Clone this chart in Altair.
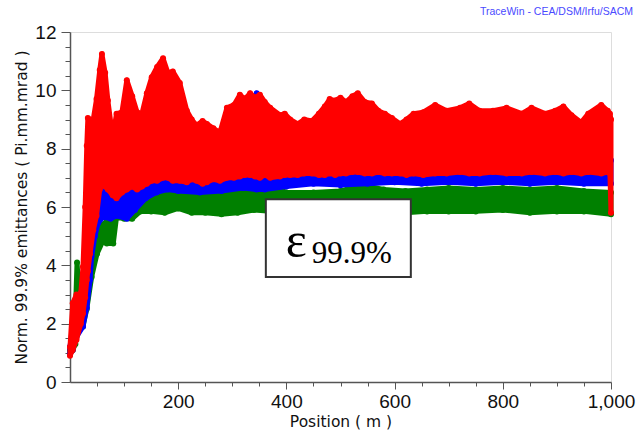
import altair as alt
import pandas as pd

# ---------------- data (envelopes of the noisy traces) ----------------
red_pos = [0, 5, 12, 20, 24, 28, 31, 33, 37, 43, 49, 55, 59, 65, 70, 79, 86, 96, 105, 115, 124, 133,
           142, 151, 161, 172, 181, 190, 203, 216, 225, 234, 245, 253, 265, 277, 290, 303, 314, 323,
           333, 342, 351, 360, 370, 388, 397, 407, 421, 433, 447, 460, 471, 480, 490, 500, 510, 522,
           532, 545, 558, 570, 582, 595, 610, 622, 635, 653, 675, 696, 721, 738, 757, 782, 807, 835,
           853, 878, 897, 912, 927, 945, 958, 982, 994, 998, 1000]
red_hi = [1.2, 2.7, 3.0, 3.05, 3.95, 6.0, 8.1, 9.05, 9.0, 9.0, 9.7, 10.7, 11.25, 10.6, 9.65, 8.4, 9.2,
          9.25, 10.35, 9.8, 9.25, 9.2, 9.9, 10.45, 10.8, 11.1, 10.6, 10.65, 10.25, 9.3, 9.0, 8.8, 8.95,
          8.85, 8.7, 8.55, 9.4, 9.5, 9.85, 9.7, 9.9, 9.75, 9.85, 9.6, 9.4, 9.15, 9.2, 9.0, 8.85, 9.0,
          8.95, 9.2, 9.45, 9.7, 9.65, 9.75, 9.6, 9.8, 9.9, 9.6, 9.55, 9.3, 9.2, 9.05, 8.85, 9.0, 9.2,
          9.25, 9.5, 9.3, 9.4, 9.55, 9.3, 9.3, 9.4, 9.2, 9.4, 9.2, 9.3, 9.45, 9.15, 8.9, 9.2, 9.5, 9.3,
          9.2, 9.0]
red_lo = [0.9, 1.1, 1.45, 2.0, 2.35, 2.9, 3.5, 3.8, 4.4, 5.2, 5.7, 6.6, 6.8, 6.7, 6.6, 6.4, 6.3, 6.5,
          6.6, 6.7, 6.6, 6.7, 6.8, 6.9, 6.9, 7.0, 7.0, 6.9, 6.9, 6.85, 6.95, 6.9, 6.8, 6.85, 6.95, 6.9,
          7.0, 7.0, 7.05, 7.1, 7.1, 7.05, 7.0, 7.1, 7.0, 7.05, 7.1, 7.1, 7.1, 7.15, 7.15, 7.1, 7.1,
          7.15, 7.1, 7.15, 7.15, 7.2, 7.2, 7.15, 7.15, 7.2, 7.15, 7.15, 7.15, 7.1, 7.15, 7.1, 7.15,
          7.15, 7.2, 7.15, 7.15, 7.2, 7.15, 7.15, 7.2, 7.15, 7.2, 7.15, 7.2, 7.15, 7.2, 7.15, 7.2,
          7.15, 5.8]

blue_pos = [0, 5, 12, 24, 31, 37, 40, 46, 52, 61, 75, 86, 105, 120, 140, 160, 180, 200, 240, 280, 320,
            345, 360, 400, 450, 500, 550, 600, 650, 700, 750, 800, 850, 900, 950, 1000]
blue_hi = [1.2, 2.0, 2.6, 3.3, 4.5, 5.8, 6.6, 7.0, 7.2, 7.1, 7.0, 7.0, 7.4, 7.6, 7.8, 7.9, 7.9, 7.8,
           7.6, 7.7, 7.8, 9.9, 7.9, 7.8, 7.7, 7.8, 7.8, 7.7, 7.7, 7.8, 7.8, 7.7, 7.8, 7.8, 7.7, 7.6]
blue_lo = [0.95, 1.1, 1.55, 1.9, 2.55, 3.5, 4.3, 5.0, 5.45, 5.65, 5.6, 5.7, 5.6, 5.9, 6.3, 6.5, 6.6,
           6.55, 6.5, 6.55, 6.65, 6.6, 6.6, 6.7, 6.8, 6.75, 6.8, 6.85, 6.8, 6.85, 6.8, 6.85, 6.8, 6.85,
           6.8, 6.8]

green_pos = [0, 5, 10, 13, 16, 24, 31, 40, 50, 60, 68, 80, 86, 100, 115, 130, 150, 175, 200, 225, 250,
             280, 310, 340, 370, 400, 450, 500, 540, 580, 620, 660, 700, 750, 800, 850, 900, 950, 1000]
green_hi = [1.1, 1.6, 2.4, 4.1, 3.2, 2.6, 3.5, 4.6, 5.2, 5.4, 5.5, 5.8, 6.0, 6.1, 6.2, 6.5, 6.7, 6.85,
            6.75, 6.5, 6.4, 6.6, 6.75, 6.9, 6.75, 6.5, 6.5, 6.55, 6.75, 6.6, 6.55, 6.6, 6.65, 6.6, 6.65,
            6.6, 6.65, 6.55, 6.5]
green_lo = [0.95, 1.1, 1.3, 2.1, 1.9, 1.9, 2.5, 3.6, 4.4, 4.8, 4.75, 4.75, 5.65, 5.6, 5.6, 5.85, 5.85,
            5.8, 5.95, 5.8, 5.8, 5.75, 5.8, 5.9, 5.85, 5.85, 5.9, 5.9, 5.95, 5.85, 5.8, 5.85, 5.85, 5.85,
            5.9, 5.8, 5.85, 5.85, 5.75]

x_ticks_major = [200, 400, 600, 800, 1000]
y_ticks_major = [0, 2, 4, 6, 8, 10, 12]

# annotation (data coordinates)
box_x = [362, 630]
box_y = [3.6, 6.27]
label_main = "ε"
label_sub = "99.9%"
credit = "TraceWin - CEA/DSM/Irfu/SACM"

# ---------------- chart ----------------
W, H = 541, 350
xs = alt.Scale(domain=[0, 1000], nice=False, zero=False)
ys = alt.Scale(domain=[0, 12], nice=False, zero=False)

x_minor = [v for v in range(50, 1001, 50)]
y_minor = [v / 2 for v in range(0, 25)]

X_TITLE = "Position ( m )"
Y_TITLE = "Norm. 99.9% emittances ( Pi.mm.mrad )"

x_axis = alt.Axis(
    values=x_minor,
    labelExpr="datum.value % 200 === 0 ? format(datum.value, ',') : ''",
    tickSize={"condition": {"test": "datum.value % 200 === 0", "value": 7}, "value": 4},
    tickColor="#555", domainColor="#555", domainWidth=1.5,
    labelFont="Liberation Sans", labelFontSize=19, labelColor="#111", labelPadding=3,
    titleFont="DejaVu Sans", titleFontSize=15.5,
    titleFontWeight="normal", titleColor="#111", titlePadding=3, grid=False,
    labelOverlap=False, labelFlush=False,
)
y_axis = alt.Axis(
    values=y_minor,
    labelExpr="datum.value % 2 === 0 ? format(datum.value, 'd') : ''",
    tickSize={"condition": {"test": "datum.value % 2 === 0", "value": 9}, "value": 5},
    tickColor="#555", domainColor="#555", domainWidth=1.5,
    labelFont="Liberation Sans", labelFontSize=19, labelColor="#111", labelPadding=5,
    titleFont="DejaVu Sans", titleFontSize=15.5,
    titleFontWeight="normal", titleColor="#111", titlePadding=5, grid=False, labelOverlap=False,
)


def X(field):
    return alt.X(field, type="quantitative", scale=xs, axis=x_axis, title=X_TITLE)


def Y(field):
    return alt.Y(field, type="quantitative", scale=ys, axis=y_axis, title=Y_TITLE)


def band(pos, lo, hi, color):
    df = pd.DataFrame({"pos": pos, "lo": lo, "hi": hi})
    area = alt.Chart(df).mark_area(
        color=color, stroke=color, strokeWidth=5, strokeJoin="round", opacity=1
    ).encode(x=X("pos"), y=Y("lo"), y2="hi:Q")
    pts = pd.DataFrame({"pos": pos + pos, "lo": lo + hi})
    dots = alt.Chart(pts).mark_circle(color=color, size=36, opacity=1).encode(
        x=X("pos"), y=Y("lo")
    )
    return [area, dots]


layers = []
layers += band(green_pos, green_lo, green_hi, "#008000")
layers += band(blue_pos, blue_lo, blue_hi, "#0000ff")
layers += band(red_pos, red_lo, red_hi, "#ff0000")

box = alt.Chart(pd.DataFrame({"pos": [box_x[0]], "x1": [box_x[1]], "lo": [box_y[0]], "y1": [box_y[1]]})).mark_rect(
    fill="white", stroke="#333", strokeWidth=2
).encode(x=X("pos"), x2="x1:Q", y=Y("lo"), y2="y1:Q")

eps = alt.Chart(pd.DataFrame({"t": [label_main], "pos": [399], "lo": [4.29]})).mark_text(
    font="Liberation Serif", fontSize=50, align="left", baseline="alphabetic", color="#000"
).encode(x=X("pos"), y=Y("lo"), text="t:N")

sub = alt.Chart(pd.DataFrame({"t": [label_sub], "pos": [447], "lo": [4.08]})).mark_text(
    font="Liberation Serif", fontSize=31, align="left", baseline="alphabetic", color="#000"
).encode(x=X("pos"), y=Y("lo"), text="t:N")

cred = alt.Chart(pd.DataFrame({"t": [credit], "pos": [1000], "lo": [12]})).mark_text(
    font="Liberation Sans", fontSize=10.5, align="right", baseline="middle", color="#4a4aff",
    dx=22, dy=-20
).encode(x=X("pos"), y=Y("lo"), text="t:N")

chart = alt.layer(*layers, box, eps, sub, cred).properties(
    width=W, height=H,
    autosize=alt.AutoSizeParams(type="none"),
    padding={"left": 70, "top": 32, "right": 26, "bottom": 59},
).configure_view(stroke="#777", strokeWidth=1.5).configure(background="white")

chart.save("out.html", embed_options={"renderer": "svg", "actions": False})
